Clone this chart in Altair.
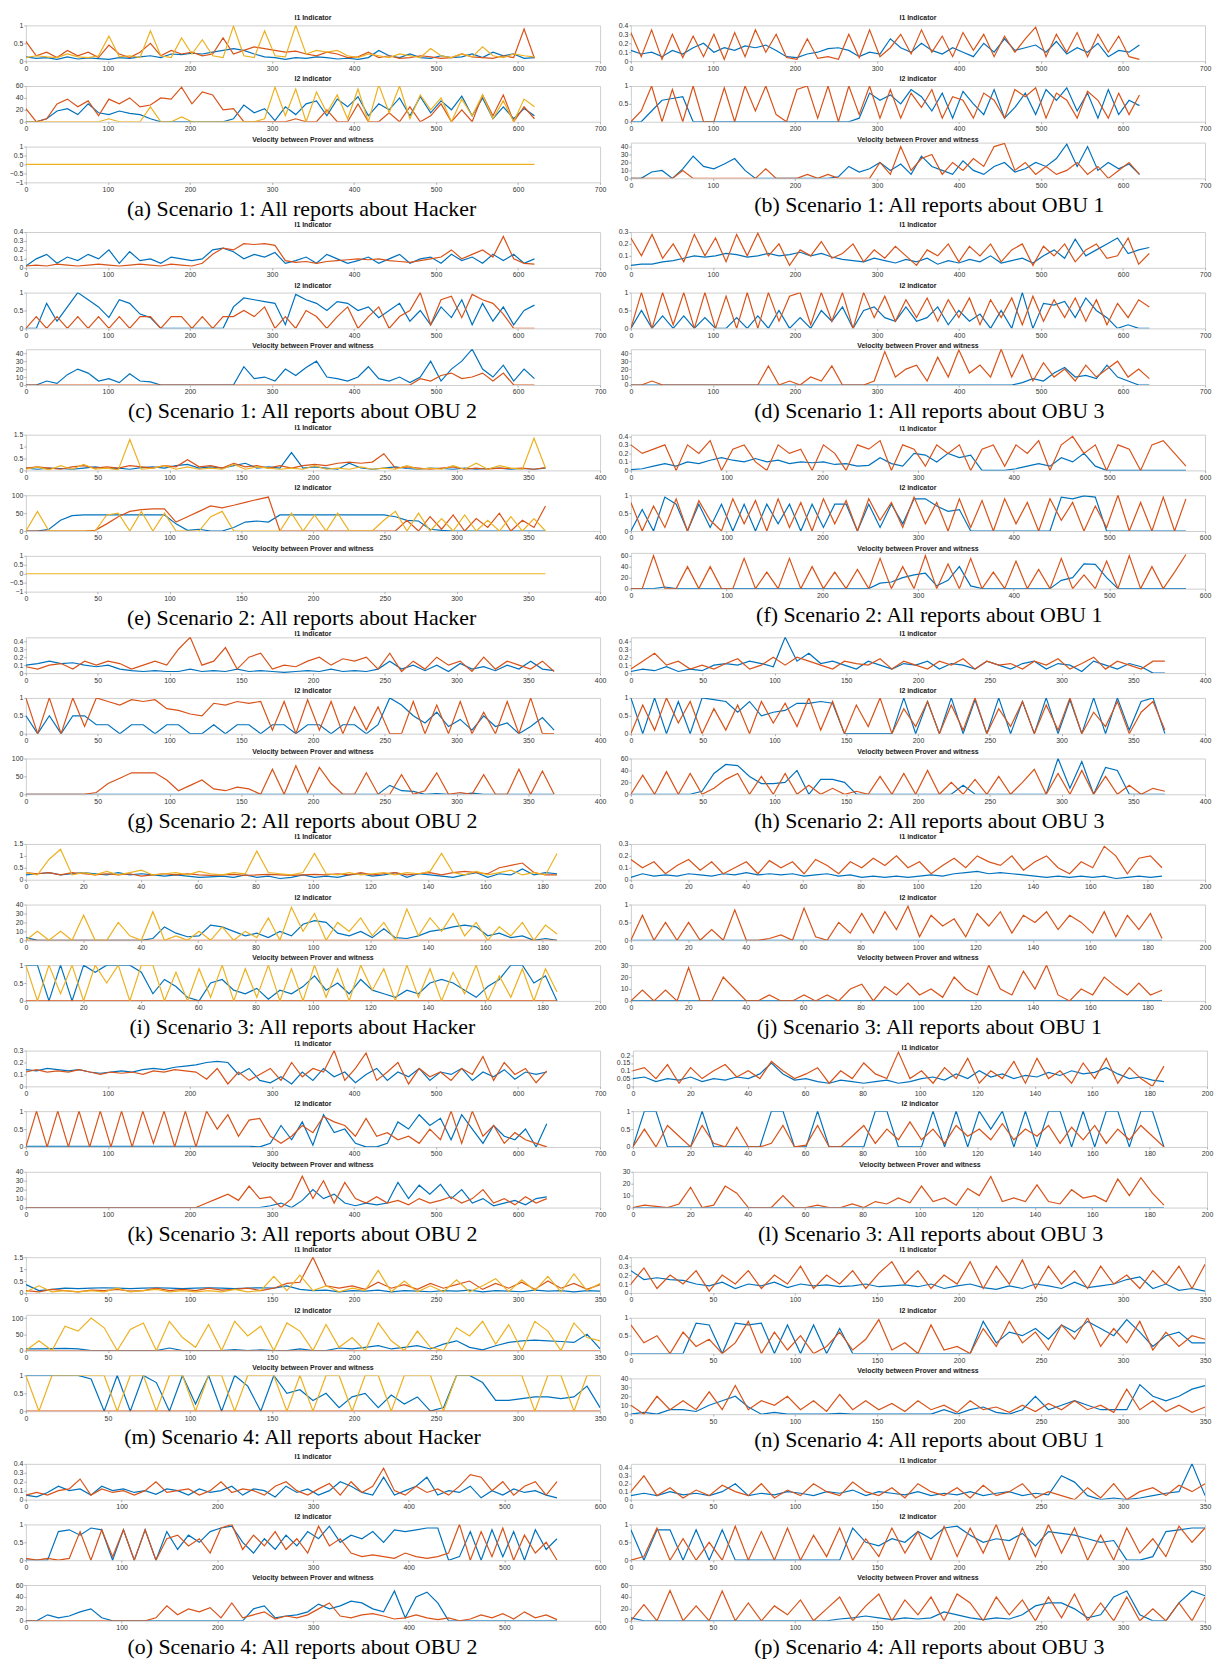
import altair as alt
import numpy as np
import pandas as pd

# ---------------- data ----------------
# (a) Scenario 1, Hacker
a1b = [.12,.08,.1,.05,.12,.06,.09,.07,.05,.1,.08,.12,.15,.1,.2,.18,.22,.2,.25,.3,.35,.3,.2,.12,.1,.05,.1,.08,.12,.1,.06,.08,.05,.1,.3,.15,.1,.2,.1,.08,.15,.1,.12,.2,.1,.25,.15,.2,.08,.1]
a1o = [.55,.15,.25,.1,.3,.15,.25,.1,.45,.2,.1,.25,.5,.15,.3,.2,.25,.15,.2,.65,.2,.3,.4,.35,.3,.25,.28,.2,.15,.25,.2,.1,.12,.25,.1,.15,.08,.1,.15,.12,.08,.1,.2,.12,.1,.08,.15,.1,.9,.08]
a1y = [.1,.15,.12,.1,.2,.12,.1,.15,.7,.12,.15,.1,.85,.15,.1,.65,.2,.6,.15,.1,.98,.15,.1,.85,.15,.12,1,.2,.3,.25,.3,.15,.1,.2,.15,.1,.2,.15,.1,.35,.15,.1,.2,.12,.4,.15,.1,.2,.15,.12]
a2b = [0,0,5,18,22,12,30,15,12,18,14,12,5,0,0,0,0,0,0,0,5,28,15,22,2,25,12,30,35,10,38,25,42,10,30,20,40,10,42,15,35,20,43,10,40,5,25,5,22,10]
a2o = [22,0,5,30,38,25,35,10,38,30,40,25,28,40,38,58,30,50,45,20,22,0,0,0,0,0,5,0,0,20,0,0,30,0,0,15,0,25,0,10,30,0,20,0,45,10,45,0,25,5]
a2y = [0,0,0,0,0,0,0,0,5,0,0,0,25,0,0,8,0,0,0,0,0,0,0,5,58,10,55,0,50,15,45,5,55,0,62,15,60,5,45,20,40,0,38,10,45,5,35,0,38,25]
a3y = [0,0]
# (b) Scenario 1, OBU 1
b1b = [.12,.08,.1,.05,.12,.08,.15,.2,.1,.15,.12,.17,.15,.18,.12,.05,.04,.08,.1,.14,.15,.12,.05,.1,.08,.25,.15,.1,.2,.12,.08,.15,.1,.05,.2,.1,.25,.12,.15,.18,.1,.22,.08,.15,.1,.2,.05,.12,.1,.18]
b1o = [.32,.05,.35,.02,.3,.04,.28,.05,.3,.02,.32,.05,.35,.1,.3,.04,.02,.25,.03,.05,.02,.3,.04,.35,.05,.15,.3,.08,.35,.1,.28,.05,.32,.12,.3,.05,.28,.1,.25,.38,.05,.3,.1,.32,.05,.3,.1,.28,.05,.02]
b2b = [0,0,.3,.6,.65,.7,0,0,0,0,0,0,0,0,0,0,0,0,0,0,0,0,.1,.8,.6,.75,.5,.9,.7,.3,.8,.1,.85,.5,.2,.9,.1,.4,.8,.2,.9,.6,.95,.3,.8,.1,.9,.2,.6,.45]
b2o = [0,.3,1,0,.9,0,1,0,0,.95,0,1,.3,1,.2,0,.9,1,.1,1,0,1,.2,1,.1,.9,.1,.8,.4,.9,.1,.7,.6,.1,.8,.6,.1,.9,.7,.95,.1,.8,.6,.1,.85,.6,.1,.8,.2,.75]
b3b = [0,0,8,10,0,12,28,15,12,18,25,10,0,0,0,0,0,0,0,0,2,15,8,12,20,10,18,5,28,15,10,5,22,10,5,15,20,8,12,20,15,25,43,15,40,10,20,12,18,5]
b3o = [0,0,0,0,0,10,0,0,0,0,0,0,0,12,0,0,0,5,0,5,0,0,0,0,20,5,40,10,25,30,5,20,10,25,15,40,44,10,20,5,15,5,10,20,5,15,0,10,20,5]
# (c) Scenario 1, OBU 2
c1b = [.02,.1,.15,.05,.12,.08,.15,.1,.2,.05,.18,.08,.1,.05,.12,.1,.08,.1,.2,.22,.18,.1,.15,.12,.17,.05,.08,.12,.05,.15,.1,.05,.08,.12,.05,.1,.15,.05,.1,.12,.05,.15,.08,.12,.05,.15,.08,.15,.05,.1]
c1o = [.02,.03,.02,.04,.03,.02,.03,.04,.03,.02,.03,.04,.03,.02,.04,.03,.02,.05,.15,.22,.2,.27,.26,.27,.25,.08,.06,.07,.05,.07,.08,.09,.1,.09,.1,.08,.07,.06,.08,.1,.12,.2,.1,.15,.2,.12,.35,.1,.05,.04]
c2b = [0,0,.7,.2,.6,1,.8,.6,.3,.8,.7,.4,.3,0,0,0,0,0,0,0,.6,.85,.8,.75,.7,.1,.95,.8,.7,.5,.75,.7,.5,.6,.3,.5,.7,.2,.5,.1,.6,.3,.8,.1,.7,.2,.6,.1,.5,.65]
c2o = [0,.33,0,.33,0,.33,0,.33,0,.33,0,.33,.33,0,.33,.33,0,.33,0,.33,.33,.5,.33,.6,0,.33,0,.5,.33,0,.33,.6,0,.33,.6,0,.33,.5,1,.1,.8,.9,.3,.95,.8,.7,.4,0,0,0]
c3b = [0,0,5,2,13,20,15,5,8,3,14,5,4,0,0,0,0,0,0,0,0,23,8,10,5,20,12,22,30,10,8,5,10,23,8,5,10,3,10,30,5,20,30,45,20,10,25,5,20,8]
c3o = [0,0,0,0,0,0,0,0,0,0,0,0,0,0,0,0,0,0,0,0,0,0,0,0,0,0,0,0,0,0,0,0,0,0,0,0,0,0,8,5,12,15,8,10,15,5,15,0,0,0]
# (d) Scenario 1, OBU 3
d1b = [.02,.03,.03,.05,.06,.08,.1,.09,.1,.12,.11,.09,.1,.12,.1,.11,.13,.1,.12,.09,.07,.06,.05,.08,.06,.04,.07,.05,.08,.03,.06,.04,.07,.05,.1,.04,.06,.08,.04,.1,.15,.08,.24,.1,.15,.2,.25,.12,.15,.17]
d1o = [.25,.1,.28,.08,.2,.05,.28,.1,.25,.05,.28,.1,.29,.1,.2,.02,.15,.1,.22,.08,.12,.2,.05,.15,.08,.18,.1,.02,.15,.1,.2,.05,.18,.1,.2,.05,.15,.2,.02,.18,.1,.2,.05,.15,.2,.08,.1,.25,.03,.12]
d2b = [0,.5,0,.35,0,.35,0,.3,0,0,.3,0,.35,0,.5,0,.3,0,.5,.2,.6,0,.5,.6,.3,.2,.6,.2,.3,.6,.1,.5,.2,.4,0,.5,0,1,0,.7,.65,.75,.3,.85,.5,.3,0,.1,0,0]
d2o = [0,1,0,1,.1,1,0,1,0,.9,0,1,0,1,.2,.9,1,.1,1,.2,1,0,1,.3,.9,.2,.8,.3,.85,.2,.8,.3,.85,.1,.8,.3,.85,.1,.9,.2,.8,.3,.85,.2,.8,.1,.7,.3,.8,.6]
d3b = [0,0,0,0,0,0,0,0,0,0,0,0,0,0,0,0,0,0,0,0,0,0,0,0,0,0,0,0,0,0,0,0,0,0,0,0,0,3,8,5,15,22,10,12,8,25,10,5,0,0]
d3o = [0,0,5,0,0,0,0,0,0,0,0,0,0,24,0,5,0,10,5,24,0,0,0,5,42,10,20,25,5,35,10,44,15,25,10,45,10,38,5,28,10,20,5,25,10,20,30,10,20,8]
# (e) Scenario 2, Hacker
e1b = [.1,.05,.1,.08,.05,.1,.15,.08,.1,.05,.12,.15,.1,.2,.25,.1,.15,.1,.2,.3,.1,.15,.1,.75,.1,.15,.1,.05,.3,.1,.05,.1,.15,.08,.05,.1,.08,.05,.1,.05,.08,.1,.05,.08,.05,.1]
e1o = [.1,.15,.1,.05,.15,.2,.1,.15,.1,.2,.15,.1,.2,.15,.45,.15,.2,.1,.3,.15,.2,.1,.2,.1,.2,.25,.2,.3,.35,.3,.35,.7,.1,.15,.1,.05,.1,.15,.05,.1,.05,.1,.08,.1,.05,.12]
e1y = [.05,.15,.02,.2,.05,.25,.05,.1,.02,1.3,.05,.1,.2,.05,.15,.05,.1,.05,.25,.05,.15,.1,.05,.1,.05,.2,.05,.1,.05,.15,.05,.1,.05,.2,.05,.1,.05,.2,.05,.3,.05,.2,.1,.05,1.35,.1]
e2b = [0,0,5,30,43,45,45,45,45,45,45,45,45,20,2,5,0,0,10,25,28,25,45,45,45,45,45,45,45,45,45,45,40,30,28,5,2,0,0,0,0,0,0,0,0,0]
e2o = [0,0,0,0,0,0,2,20,40,55,60,62,62,25,40,55,70,65,72,80,88,95,0,0,0,0,0,0,0,0,0,0,0,30,0,40,5,45,0,35,10,50,0,30,10,70]
e2y = [0,55,0,0,0,0,0,45,50,0,55,0,50,0,0,0,40,55,0,0,0,0,0,50,0,45,0,50,0,0,0,30,55,0,50,0,35,0,45,0,30,0,40,0,35,0]
e3y = [0,0]
# (f) Scenario 2, OBU 1
f1b = [.01,.02,.05,.08,.05,.1,.08,.12,.15,.12,.1,.14,.1,.12,.08,.1,.09,.1,.07,.08,.05,.06,.15,.08,.05,.2,.18,.1,.2,.15,.18,0,0,0,.02,.05,.08,.05,.15,.1,.2,.05,0,0,0,0,0,0,0,0]
f1o = [.3,.2,.25,.3,0,.3,.2,.35,0,.25,.3,.1,0,.3,.2,.25,0,.3,.2,0,.3,.25,.35,0,.3,.25,.05,.3,.2,.3,0,.25,.3,.05,.3,.2,.35,0,.3,.4,.2,.3,0,.3,.25,0,.3,.35,.2,.05]
f2b = [0,.6,0,.95,.75,0,.75,.1,.75,0,.75,0,.75,.2,.75,0,.75,.1,.75,.75,0,.75,.1,.75,.2,.9,.9,.7,.55,.6,0,0,0,0,0,0,0,0,.95,.9,.98,.95,0,0,0,0,0,0,0,0]
f2o = [.8,0,.7,.1,.9,0,.85,.3,0,.9,.2,.85,0,.9,.1,.8,0,.9,.2,.85,0,.9,.3,.8,.1,.95,.2,.8,0,.9,.1,.85,0,.9,.2,.8,0,.9,.3,.8,0,.7,.1,1,0,.8,0,.95,0,.9]
f3b = [0,0,0,3,0,0,0,0,0,0,0,0,0,0,0,0,0,0,0,0,0,0,10,12,20,25,28,5,15,40,5,0,0,0,0,0,0,0,15,20,45,44,20,0,0,0,0,0,0,0]
f3o = [0,0,60,0,0,40,0,40,0,0,55,0,30,0,55,0,40,0,30,0,35,0,55,0,40,0,60,0,45,0,55,0,30,0,50,0,35,0,55,0,25,0,50,0,60,0,40,0,30,62]
# (g) Scenario 2, OBU 2
g1b = [.1,.12,.15,.12,.13,.1,.08,.1,.05,.03,.02,.03,.02,.02,.05,.02,.03,.02,.05,.02,.03,.02,.01,.02,.03,.02,.05,.02,.03,.02,.05,.15,.05,.1,.03,.1,.02,.12,.05,.08,.03,.1,.05,.15,.05,.03]
g1o = [.08,.05,.1,.12,.05,.15,.1,.15,.12,.05,.1,.15,.1,.3,.45,.1,.15,.32,.05,.2,.25,.05,.1,.08,.15,.2,.1,.18,.15,.2,.05,.25,.02,.15,.05,.2,.1,.15,.02,.2,.05,.15,.1,.05,.15,.02]
g2b = [.5,0,.5,0,.5,.5,.25,.25,0,.25,.25,0,.25,.25,0,0,.25,0,.25,.25,0,.25,.25,0,.25,.25,0,.25,.25,0,.25,1,.8,.5,.3,.6,.2,.4,.1,.5,.2,.3,0,.2,.45,.1]
g2o = [1,0,1,0,1,.2,1,.9,.8,.95,.9,.95,.7,.65,.55,.5,.85,.8,.9,.85,.9,.1,.9,0,.95,.1,.9,0,.75,.1,.75,0,0,.9,0,.8,0,.9,0,.6,0,.9,0,1,0,0]
g3b = [0,0,0,0,0,0,0,0,0,0,0,0,0,0,0,0,0,0,0,0,0,0,0,0,0,0,0,0,0,0,0,25,10,8,0,2,0,0,3,0,0,0,0,0,0,0]
g3o = [0,0,0,0,0,0,5,30,45,60,60,60,40,10,25,40,15,10,20,15,0,70,0,80,5,75,30,0,0,60,0,0,55,0,10,60,0,5,0,55,0,0,70,0,65,0]
# (h) Scenario 2, OBU 3
h1b = [.02,.05,.03,.08,.02,.05,.03,.1,.12,.1,.15,.12,.08,.45,.15,.25,.12,.15,.1,.05,.15,.1,.05,.12,.1,.15,.05,.12,.1,.05,.15,.1,.05,.12,.15,.05,.12,.1,.02,.15,.1,.05,.12,.08,0,0]
h1o = [.05,.15,.25,.1,.15,.05,.1,.05,.12,.18,.05,.1,.2,.1,.2,.15,.1,.05,.15,.12,.1,.18,.05,.15,.1,.05,.15,.1,.18,.05,.15,.1,.12,.05,.15,.1,.18,.05,.12,.2,.05,.15,.1,.05,.15,.15]
h2b = [1,0,1,0,.9,0,1,.95,.9,.6,.9,.5,.6,.65,.85,.85,.9,.85,0,0,0,0,0,1,0,.9,0,1,0,.95,0,1,0,.9,0,1,0,.95,0,1,0,1,.1,.9,1,0]
h2o = [0,.8,.1,1,.3,.9,0,.7,.1,.8,0,.9,.3,.85,.2,1,.1,.9,0,.8,.2,1,0,.7,.2,.9,0,.8,.1,1,0,.7,.2,.9,0,.8,.1,1,0,.6,.2,.9,0,.6,.9,.1]
h3b = [0,0,0,0,0,0,5,35,50,48,30,18,18,20,40,0,25,25,20,0,0,0,0,0,0,0,0,0,15,0,0,0,0,0,0,0,60,10,55,0,45,40,0,0,0,0]
h3o = [0,32,0,38,0,35,0,10,25,35,0,30,0,35,0,15,0,10,0,5,0,30,0,35,0,40,0,20,0,25,0,30,0,20,42,0,35,0,40,0,30,0,15,0,10,5]
# (i) Scenario 3, Hacker
i1b = [.2,.25,.3,.2,.25,.3,.25,.2,.3,.2,.25,.2,.15,.2,.15,.1,.12,.15,.1,.2,.1,.15,.05,.1,.2,.1,.15,.1,.2,.25,.15,.2,.3,.1,.25,.2,.15,.1,.2,.3,.1,.25,.2,.45,.2,.3,.25]
i1o = [.3,.25,.3,.2,.3,.25,.2,.25,.2,.25,.15,.2,.25,.2,.25,.2,.18,.2,.22,.18,.2,.22,.2,.18,.2,.22,.2,.25,.2,.3,.2,.25,.3,.2,.25,.3,.2,.3,.35,.3,.25,.5,.6,.7,.3,.2,.2]
i1y = [.3,.2,.85,1.28,.2,.3,.2,.35,.2,.3,.4,.2,.25,.3,.2,.35,.25,.2,.3,.25,1.2,.3,.25,.2,.3,1.1,.25,.2,.3,.2,.25,.3,.2,.3,.25,.35,1.1,.3,.2,.35,.2,.3,.4,.2,.3,.2,1.1]
i2b = [3,0,0,0,0,0,0,0,0,0,0,2,15,8,4,5,17,15,10,5,8,3,10,5,18,22,20,8,5,10,3,13,3,2,5,10,12,15,17,15,5,8,3,5,0,2,0]
i2o = [0,0]
i2y = [0,10,0,10,0,28,0,0,20,5,0,32,0,5,0,10,0,15,0,10,3,25,0,37,10,30,0,20,10,25,5,20,0,35,5,25,10,30,5,20,0,15,5,20,0,17,7]
i3b = [1,1,0,1,0,1,.8,1,1,1,.8,.2,.6,.4,.1,0,.5,.6,.3,.2,.35,.05,.3,.2,.4,.7,.3,.5,.2,.6,.3,.2,.1,.3,.2,.5,.6,.5,.3,.1,.4,.6,1,1,.5,.7,0]
i3o = [0,0]
i3y = [1,0,1,.2,1,0,1,.5,1,0,1,1,0,.8,0,.9,.1,1,0,.9,.1,1,0,.9,0,1,.1,.9,0,1,.3,.9,0,1,.1,.9,0,.8,.2,1,0,.7,.1,.9,0,.9,.25]
# (j) Scenario 3, OBU 1
j1b = [.02,.05,.03,.04,.03,.05,.04,.03,.05,.04,.06,.04,.05,.04,.05,.03,.04,.05,.03,.04,.02,.03,.02,.03,.02,.03,.04,.03,.05,.06,.07,.05,.06,.05,.04,.03,.02,.03,.02,.03,.02,.03,.01,.02,.03,.02,.03]
j1o = [.17,.1,.15,.05,.12,.17,.08,.15,.05,.1,.15,.05,.16,.1,.15,.05,.17,.12,.05,.15,.1,.18,.12,.2,.1,.15,.05,.12,.18,.1,.2,.15,.12,.2,.08,.15,.2,.1,.05,.15,.1,.28,.2,.05,.18,.2,.1]
j2b = [0,0]
j2o = [0,.7,0,.5,0,.5,0,.3,0,.85,0,0,.05,.15,0,.9,.1,0,.5,.2,.75,.2,.8,.3,.95,.1,.7,.4,.6,.1,.75,.4,.8,.2,.7,.5,.8,.3,.7,.5,.2,.8,.1,.7,.3,.75,.05]
j3b = [0,0]
j3o = [0,9,0,9,0,28,0,0,20,10,0,0,5,0,0,5,0,5,0,10,14,0,12,5,15,5,10,3,20,10,5,30,10,5,25,10,30,5,0,10,5,20,12,5,15,5,9]
# (k) Scenario 3, OBU 2
k1b = [.14,.13,.15,.14,.13,.14,.12,.11,.12,.13,.12,.14,.15,.14,.16,.17,.18,.2,.21,.2,.1,.15,.05,.03,.08,.02,.12,.05,.15,.08,.12,.03,.1,.15,.05,.12,.08,.15,.05,.12,.1,.15,.05,.12,.08,.14,.06,.12,.1,.12]
k1o = [.12,.14,.12,.13,.12,.14,.12,.1,.12,.11,.12,.1,.13,.12,.14,.13,.12,.06,.15,.02,.12,.05,.1,.15,.05,.2,.08,.15,.12,.3,.05,.15,.28,.05,.12,.2,.02,.15,.08,.12,.05,.15,.1,.25,.05,.2,.1,.15,.03,.13]
k2b = [.02,.02,.02,.02,.02,.02,.02,.02,.02,.02,.02,.02,.02,.02,.02,.02,.02,.02,.02,.02,.02,.02,0,.1,.6,.2,.7,.05,.9,.4,.5,.1,0,0,.1,.7,.5,.9,.6,.8,.2,.9,.5,.1,.6,.3,.2,.5,0,.65]
k2o = [0,1,0,1,0,1,0,1,0,1,0,1,.1,1,0,1,0,1,.5,.9,.3,.75,.8,.3,.1,.3,.6,.4,.85,.7,.6,.3,.8,.3,.4,.2,.3,.1,.5,.2,1,.1,1,.3,.6,.1,.4,.2,.1,0]
k3b = [0,0,0,0,0,0,0,0,0,0,0,0,0,0,0,0,0,0,0,0,0,0,0,2,5,0,8,20,10,15,5,2,5,3,5,28,10,25,15,26,10,20,5,10,2,5,8,3,10,12]
k3o = [0,0,0,0,0,0,0,0,0,0,0,0,0,0,0,0,0,5,10,15,8,24,10,12,0,10,35,10,30,5,28,10,5,12,5,8,3,10,5,8,12,5,10,20,5,10,3,12,5,10]
# (l) Scenario 3, OBU 3
l1b = [.05,.06,.03,.05,.04,.06,.03,.05,.04,.06,.05,.08,.15,.08,.04,.05,.03,.02,.04,.03,.02,.03,.04,.02,.03,.05,.06,.04,.08,.05,.1,.06,.08,.05,.07,.06,.09,.07,.1,.08,.09,.12,.08,.05,.06,.04,.03]
l1o = [.1,.12,.05,.14,.02,.12,.05,.1,.14,.06,.1,.05,.16,.1,.05,.08,.12,.02,.1,.05,.15,.08,.05,.22,.05,.1,.02,.12,.05,.18,.02,.1,.05,.16,.02,.18,.05,.1,.02,.15,.05,.18,.02,.12,.05,0,.13]
l2b = [0,1,1,0,0,0,1,0,0,0,0,0,1,1,0,0,1,0,0,0,0,1,1,0,0,0,1,0,1,0,1,.5,1,0,1,0,1,1,0,1,0,1,1,0,1,1,0]
l2o = [0,.5,0,.6,.3,0,.6,.1,0,.55,0,0,.1,.6,0,.05,.6,0,0,.3,.6,.1,.5,.2,.7,.2,.5,.1,.6,.3,.5,.2,.65,.2,.5,.3,.6,.1,.55,.2,.6,.1,.5,.2,.6,.3,0]
l3b = [0,0]
l3o = [0,2,1,0,3,17,0,2,18,12,0,0,0,10,0,0,2,0,0,3,0,5,3,8,4,18,5,8,2,16,10,26,5,8,5,19,5,3,15,8,10,5,24,10,25,12,2]
# (m) Scenario 4, Hacker
m1b = [.35,.1,.15,.2,.18,.2,.22,.2,.18,.2,.22,.2,.18,.2,.22,.2,.18,.2,.22,.2,.3,.15,.1,.12,.05,.1,.08,.12,.05,.1,.08,.05,.1,.08,.12,.05,.1,.08,.05,.12,.08,.1,.05,.1,.08]
m1o = [.1,.05,.15,.1,.05,.12,.1,.15,.08,.1,.2,.1,.15,.1,.2,.12,.15,.2,.1,.2,.4,.45,1.5,.3,.2,.3,.15,.45,.2,.35,.15,.4,.2,.35,.5,.15,.4,.2,.45,.15,.5,.2,.4,.15,.35]
m1y = [.05,.3,.05,.1,.05,.1,.05,.2,.05,.1,.15,.05,.1,.05,.1,.05,.15,.05,.1,.7,.1,.75,.1,.3,.05,.2,.1,.95,.05,.5,.05,.3,.05,.55,.05,.3,.6,.05,.55,.1,.7,.05,.8,.1,.4]
m2b = [5,5,6,7,5,0,0,0,0,0,0,8,0,0,0,0,3,0,2,0,0,5,0,0,8,5,10,15,5,10,15,5,20,30,10,2,15,25,30,32,30,28,25,50,5]
m2o = [0,0]
m2y = [0,30,0,75,60,100,70,0,65,85,0,90,40,10,80,0,90,45,75,0,85,60,0,80,10,40,0,85,30,0,60,10,0,70,45,90,20,80,0,90,60,0,85,40,30]
m3b = [1,1,1,1,1,.9,0,1,0,1,.8,0,1,.2,1,0,1,.7,0,1,.5,.6,.3,.5,.1,.4,.5,.1,.45,.2,.4,0,.1,1,1,.8,.3,.3,.35,.4,.4,.35,.4,.7,.1]
m3o = [0,0]
m3y = [1,0,1,1,1,1,1,0,1,1,0,1,1,0,1,1,0,1,1,1,0,1,0,1,1,0,1,1,0,1,1,1,0,1,1,1,1,1,1,0,1,1,0,1,1]
# (n) Scenario 4, OBU 1
n1b = [.25,.15,.17,.15,.14,.1,.08,.12,.05,.1,.08,.12,.06,.1,.08,.09,.07,.08,.1,.07,.08,.09,.07,.1,.05,.08,.1,.06,.04,.08,.05,.1,.08,.05,.12,.06,.08,.1,.15,.18,.05,.1,.03,.05,.02]
n1o = [.1,.28,.05,.2,.1,.25,.02,.2,.1,.25,.05,.2,.1,.3,.05,.2,.1,.25,.05,.22,.35,.1,.25,.05,.2,.1,.35,.05,.3,.1,.37,.05,.3,.1,.25,.05,.3,.1,.2,.05,.25,.1,.3,.05,.32]
n2b = [0,0,0,0,0,.85,.8,0,.85,.8,.85,0,.8,0,.8,0,.7,0,0,0,0,0,0,0,0,0,0,.9,.3,.6,.5,.7,.4,.8,.6,.9,.7,.5,.95,.6,.2,.5,.6,.3,.3]
n2o = [.8,.3,.5,0,.6,.2,.4,0,.3,.9,0,.6,.1,.5,0,.2,.6,.1,.4,.95,.1,.3,0,.8,.1,.2,0,.7,.2,.9,.3,.6,.1,.8,.4,1,.2,.7,.3,.9,.1,.6,.2,.5,.4]
n3b = [0,2,0,5,5,3,10,15,20,8,0,2,0,0,0,0,1,0,0,0,0,0,0,0,5,0,5,8,2,0,5,20,5,10,15,10,5,5,5,33,20,15,20,28,32]
n3o = [10,0,20,5,15,5,25,5,32,5,15,10,20,5,15,3,22,5,15,5,12,3,15,5,10,2,15,5,8,2,10,3,12,5,15,5,10,2,28,5,15,3,10,2,8]
# (o) Scenario 4, OBU 2
o1b = [.05,.03,.08,.15,.1,.12,.05,.15,.1,.12,.08,.1,.06,.12,.1,.05,.12,.08,.1,.15,.05,.12,.1,.03,.15,.08,.12,.05,.1,.2,.15,.08,.05,.25,.05,.1,.15,.25,.05,.1,.08,.15,.02,.1,.05,.12,.08,.1,.05,.02]
o1o = [.05,.08,.05,.1,.12,.23,.05,.12,.08,.1,.05,.1,.2,.08,.1,.12,.05,.1,.2,.08,.12,.1,.05,.15,.2,.1,.05,.12,.18,.05,.2,.08,.15,.35,.1,.05,.15,.08,.12,.05,.15,.28,.25,.1,.2,.05,.15,.2,.05,.2]
o2b = [0,0,0,.8,.85,.7,.9,.85,0,.85,0,.85,0,.8,.3,.7,.5,.8,.9,.95,.5,.2,.6,.3,.7,.4,.8,.6,.95,.5,.7,.6,.8,.5,.85,.8,.85,.9,.9,0,.1,.8,0,.85,.1,.8,0,.85,.3,.6]
o2o = [.05,0,.05,0,.05,.8,0,.85,.1,.85,0,.85,0,.6,.7,.4,.6,.2,.9,1,.3,.7,.4,.8,.3,.6,.2,.95,.4,.6,.2,.1,.15,.1,.05,.2,.1,.05,.1,.2,1,0,.8,.1,.9,0,.7,.2,.5,0]
o3b = [0,0,10,5,8,15,20,5,0,0,0,0,0,0,0,0,0,0,0,0,0,20,25,5,8,10,15,28,20,25,33,30,20,15,50,5,40,48,30,0,0,0,0,0,0,0,0,0,0,0]
o3o = [0,0,0,0,0,0,0,0,0,0,0,0,5,25,10,20,15,22,5,30,5,10,15,3,8,5,10,20,30,8,5,10,12,8,3,5,10,5,2,5,0,3,10,5,12,3,15,5,10,2]
# (p) Scenario 4, OBU 3
p1b = [.05,.08,.05,.1,.06,.08,.05,.1,.2,.05,.08,.06,.1,.08,.05,.1,.08,.12,.05,.1,.08,.06,.1,.05,.08,.06,.1,.05,.08,.1,.05,.08,.06,.3,.22,.05,0,.02,0,.02,.05,.08,.1,.45,.05]
p1o = [.1,.3,.05,.15,.02,.12,.05,.18,.1,.05,.2,.02,.12,.05,.2,.1,.05,.22,.1,.05,.15,.02,.2,.1,.05,.15,.02,.18,.05,.1,.2,.02,.1,.05,0,.15,.02,.2,0,.1,.15,.05,.18,.1,.2]
p2b = [.85,0,.85,.85,0,.85,0,.85,0,0,0,0,0,0,0,0,0,.9,.5,.4,.6,.5,.8,.6,.9,.95,.7,.5,.6,.55,.75,.4,.8,.75,.7,.6,.5,.55,0,0,.1,.8,.85,.9,.9]
p2o = [0,.1,.9,0,.6,0,.5,0,.95,0,.8,0,.9,0,.7,.1,.9,0,.6,.1,.9,.2,.8,0,.95,.1,.9,.2,1,0,.9,.1,1,.2,.9,0,.7,0,.9,.2,.6,.1,.95,.5,.9]
p3b = [5,0,0,0,0,0,0,0,0,0,0,0,0,0,0,0,3,5,8,5,2,5,3,5,15,10,5,2,5,3,10,25,30,30,20,5,10,40,50,10,0,0,30,50,42]
p3o = [0,27,0,51,0,25,0,50,0,30,0,25,10,35,0,20,40,0,25,45,0,35,10,40,0,45,30,0,40,10,35,0,40,5,45,0,30,0,40,0,20,0,30,0,40]

# axis ticks
T_I1_1 = [0, .5, 1]
T_I1_15 = [0, .5, 1, 1.5]
T_04 = [0, .1, .2, .3, .4]
T_03 = [0, .1, .2, .3]
T_02 = [0, .05, .1, .15, .2]
T_01 = [0, .5, 1]
T_VEL_PM = [-1, -.5, 0, .5, 1]
T_40 = [0, 10, 20, 30, 40]
T_30 = [0, 10, 20, 30]
T_60 = [0, 20, 40, 60]
T_100 = [0, 50, 100]

BLUE, ORANGE, YELLOW = "#0072BD", "#D95319", "#EDB120"
COL = {"b": BLUE, "o": ORANGE, "y": YELLOW}
W, H = 578, 36
P2 = "I2 indicator"
P3 = "Velocity between Prover and witness"


def panel(title, xend, xmax, xstep, ydom, yticks, series):
    xticks = list(range(0, xmax + 1, xstep))
    layers = []
    for key, vals in series:
        df = pd.DataFrame({"x": np.linspace(0, xend, len(vals)), "y": vals})
        layers.append(
            alt.Chart(df).mark_line(color=COL[key], strokeWidth=1.2, clip=True).encode(
                x=alt.X("x:Q", scale=alt.Scale(domain=[0, xmax], nice=False, zero=False),
                        axis=alt.Axis(values=xticks, format="d", title=None)),
                y=alt.Y("y:Q", scale=alt.Scale(domain=ydom, nice=False, zero=False),
                        axis=alt.Axis(values=yticks, format="~r", title=None)),
            )
        )
    return alt.layer(*layers).properties(
        width=W, height=H,
        title=alt.TitleParams(title, fontSize=7, fontWeight="bold", font="Liberation Sans",
                              offset=0, color="#222"),
    )


def subfig(caption, xend, xmax, xstep, t1, p1, p2, p3, dx):
    panels = [
        panel(t1, xend, xmax, xstep, *p1),
        panel(P2, xend, xmax, xstep, *p2),
        panel(P3, xend, xmax, xstep, *p3),
    ]
    return alt.vconcat(*panels, spacing=2).properties(
        title=alt.TitleParams(caption, orient="bottom", fontSize=22, font="Liberation Serif",
                              fontWeight="normal", offset=6, anchor="middle", color="black",
                              dx=dx)
    )


SUBS = [
    ("(a) Scenario 1: All reports about Hacker", 620, 700, 100, "I1 Indicator",
     ([0, 1], T_I1_1, [("b", a1b), ("o", a1o), ("y", a1y)]),
     ([0, 60], T_60, [("b", a2b), ("o", a2o), ("y", a2y)]),
     ([-1, 1], T_VEL_PM, [("y", a3y)])),
    ("(b) Scenario 1: All reports about OBU 1", 620, 700, 100, "I1 Indicator",
     ([0, .4], T_04, [("b", b1b), ("o", b1o)]),
     ([0, 1], T_01, [("b", b2b), ("o", b2o)]),
     ([0, 45], T_40, [("b", b3b), ("o", b3o)])),
    ("(c) Scenario 1: All reports about OBU 2", 620, 700, 100, "I1 Indicator",
     ([0, .4], T_04, [("b", c1b), ("o", c1o)]),
     ([0, 1], T_01, [("b", c2b), ("o", c2o)]),
     ([0, 45], T_40, [("b", c3b), ("o", c3o)])),
    ("(d) Scenario 1: All reports about OBU 3", 632, 700, 100, "I1 Indicator",
     ([0, .3], T_03, [("b", d1b), ("o", d1o)]),
     ([0, 1], T_01, [("b", d2b), ("o", d2o)]),
     ([0, 45], T_40, [("b", d3b), ("o", d3o)])),
    ("(e) Scenario 2: All reports about Hacker", 362, 400, 50, "I1 Indicator",
     ([0, 1.5], T_I1_15, [("b", e1b), ("o", e1o), ("y", e1y)]),
     ([0, 100], T_100, [("b", e2b), ("o", e2o), ("y", e2y)]),
     ([-1, 1], T_VEL_PM, [("y", e3y)])),
    ("(f) Scenario 2: All reports about OBU 1", 580, 600, 100, "I1 Indicator",
     ([0, .42], T_04, [("b", f1b), ("o", f1o)]),
     ([0, 1], T_01, [("b", f2b), ("o", f2o)]),
     ([0, 65], T_60, [("b", f3b), ("o", f3o)])),
    ("(g) Scenario 2: All reports about OBU 2", 368, 400, 50, "I1 indicator",
     ([0, .45], T_04, [("b", g1b), ("o", g1o)]),
     ([0, 1], T_01, [("b", g2b), ("o", g2o)]),
     ([0, 100], T_100, [("b", g3b), ("o", g3o)])),
    ("(h) Scenario 2: All reports about OBU 3", 372, 400, 50, "I1 indicator",
     ([0, .45], T_04, [("b", h1b), ("o", h1o)]),
     ([0, 1], T_01, [("b", h2b), ("o", h2o)]),
     ([0, 60], T_60, [("b", h3b), ("o", h3o)])),
    ("(i) Scenario 3: All reports about Hacker", 185, 200, 20, "I1 Indicator",
     ([0, 1.5], T_I1_15, [("b", i1b), ("o", i1o), ("y", i1y)]),
     ([0, 40], T_40, [("b", i2b), ("o", i2o), ("y", i2y)]),
     ([0, 1], T_01, [("b", i3b), ("o", i3o), ("y", i3y)])),
    ("(j) Scenario 3: All reports about OBU 1", 185, 200, 20, "I1 indicator",
     ([0, .3], T_03, [("b", j1b), ("o", j1o)]),
     ([0, 1], T_01, [("b", j2b), ("o", j2o)]),
     ([0, 30], T_30, [("b", j3b), ("o", j3o)])),
    ("(k) Scenario 3: All reports about OBU 2", 635, 700, 100, "I1 indicator",
     ([0, .3], T_03, [("b", k1b), ("o", k1o)]),
     ([0, 1], T_01, [("b", k2b), ("o", k2o)]),
     ([0, 40], T_40, [("b", k3b), ("o", k3o)])),
    ("(l) Scenario 3: All reports about OBU 3", 185, 200, 20, "I1 indicator",
     ([0, .23], T_02, [("b", l1b), ("o", l1o)]),
     ([0, 1], T_01, [("b", l2b), ("o", l2o)]),
     ([0, 30], T_30, [("b", l3b), ("o", l3o)])),
    ("(m) Scenario 4: All reports about Hacker", 350, 350, 50, "I1 Indicator",
     ([0, 1.5], T_I1_15, [("b", m1b), ("o", m1o), ("y", m1y)]),
     ([0, 110], T_100, [("b", m2b), ("o", m2o), ("y", m2y)]),
     ([0, 1], T_01, [("b", m3b), ("o", m3o), ("y", m3y)])),
    ("(n) Scenario 4: All reports about OBU 1", 350, 350, 50, "I1 indicator",
     ([0, .4], T_04, [("b", n1b), ("o", n1o)]),
     ([0, 1], T_01, [("b", n2b), ("o", n2o)]),
     ([0, 40], T_40, [("b", n3b), ("o", n3o)])),
    ("(o) Scenario 4: All reports about OBU 2", 555, 600, 100, "I1 indicator",
     ([0, .4], T_04, [("b", o1b), ("o", o1o)]),
     ([0, 1], T_01, [("b", o2b), ("o", o2o)]),
     ([0, 60], T_60, [("b", o3b), ("o", o3o)])),
    ("(p) Scenario 4: All reports about OBU 3", 350, 350, 50, "I1 indicator",
     ([0, .45], T_04, [("b", p1b), ("o", p1o)]),
     ([0, 1], T_01, [("b", p2b), ("o", p2o)]),
     ([0, 60], T_60, [("b", p3b), ("o", p3o)])),
]

figs = [subfig(*s, dx=(-6 if k % 2 == 0 else 16)) for k, s in enumerate(SUBS)]
rows = [alt.hconcat(figs[2 * r], figs[2 * r + 1], spacing=8) for r in range(8)]

chart = (
    alt.vconcat(*rows, spacing=0)
    .properties(padding={"left": 0, "top": 0, "right": 0, "bottom": 0})
    .configure_view(stroke="#cfcfcf", strokeWidth=1)
    .configure_axis(labelFont="Liberation Sans", labelFontSize=7, labelColor="#333",
                    domain=False, grid=False, tickSize=2, tickColor="#aaa",
                    labelPadding=1, labelOverlap=False, labelFlush=False)
    .configure_axisX(minExtent=0, maxExtent=10)
    .configure_axisY(minExtent=15, maxExtent=15)
)

chart.save("out.html", embed_options={"renderer": "svg", "actions": False})
